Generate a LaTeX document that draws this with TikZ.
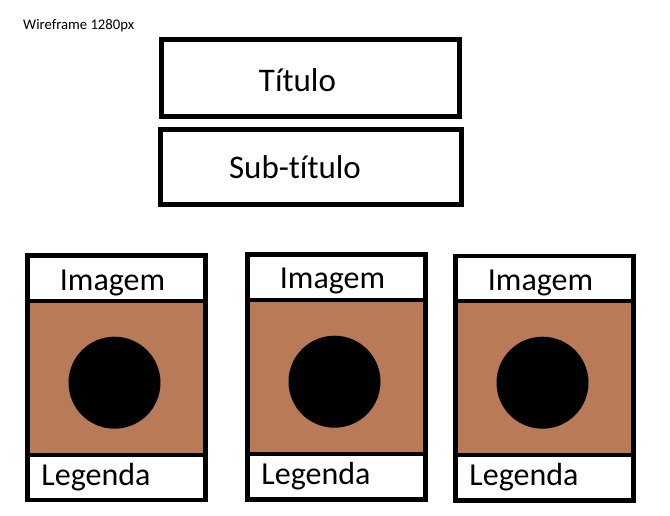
\documentclass[tikz,border=0pt]{standalone}
\usepackage{fontspec}
\setmainfont[Ligatures=NoCommon]{Carlito}
\usepackage{xcolor}
\usepackage{tikz}
\usetikzlibrary{positioning}

\definecolor{foto}{RGB}{185,122,87}

\begin{document}
\begin{tikzpicture}[
  x=1pt, y=-1pt,
  box/.style={rectangle, draw, line width=4.8pt, inner sep=0pt},
  card/.style={box, minimum width=178pt, minimum height=244.5pt},
  photo/.style={box, fill=foto, minimum width=178pt, minimum height=154pt},
  lens/.style={circle, fill=black, inner sep=0pt, minimum size=92pt},
  big/.style={anchor=base, inner sep=0pt, font=\fontsize{33}{40}\selectfont},
  txt/.style={anchor=base, inner sep=0pt, font=\fontsize{32}{38}\selectfont},
  tiny/.style={anchor=base west, inner sep=0pt, font=\fontsize{14.7}{18}\selectfont}
]
  \useasboundingbox (0,0) rectangle (670,515);

  \node[tiny] (wf) at (23,29) {Wireframe 1280px};

  % cabecalho
  \node[box, minimum width=298pt, minimum height=77pt] (titulo) at (310.5,78) {};
  \node[big] (titulotxt) at (297.5,91.7) {Título};
  \node[box, minimum width=301pt, minimum height=75pt] (subtitulo) at (311,167) {};
  \node[big] (subtitulotxt) at (295,178.3) {Sub-título};

  % cartao 1
  \node[photo] (pic1) at (116.4,378) {};
  \node[card] (card1) at (116.4,377.8) {};
  \node[lens] (lens1) at (114.5,382.7) {};
  \node[txt] (img1) at (112.5,290) {Imagem};
  \node[txt] (leg1) at (96,485) {Legenda};

  % cartao 2
  \node[photo] (pic2) at (336.3,376.9) {};
  \node[card] (card2) at (336.3,377) {};
  \node[lens] (lens2) at (334.5,381.7) {};
  \node[txt] (img2) at (332.5,288.3) {Imagem};
  \node[txt] (leg2) at (316,484) {Legenda};

  % cartao 3
  \node[photo] (pic3) at (544.2,378) {};
  \node[card] (card3) at (544.2,378.3) {};
  \node[lens] (lens3) at (542.5,382.7) {};
  \node[txt] (img3) at (540.5,290) {Imagem};
  \node[txt] (leg3) at (524,485) {Legenda};
\end{tikzpicture}
\end{document}
